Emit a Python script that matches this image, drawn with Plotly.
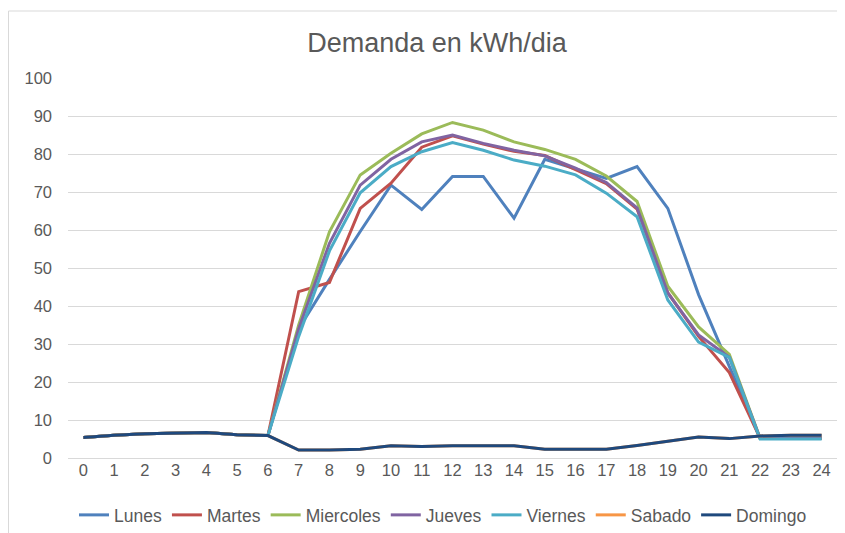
import plotly.graph_objects as go

hours = list(range(25))
tick_labels = [str(h) for h in hours]

night = [5.4, 6.0, 6.4, 6.5, 6.7, 6.1, 5.9]

lunes = night + [34, 47, 59.6, 71.8, 65.4, 74.1, 74.1, 63.1, 78.6, 76.2, 73.6, 76.7, 65.7, 43, 24, 5.2, 5.2, 5.2]
martes = night + [43.8, 46.2, 65.7, 72.3, 81.8, 84.8, 82.6, 80.7, 79.6, 76.0, 72.2, 65.5, 43.5, 32.0, 22.5, 5.2, 5.2, 5.2]
miercoles = night + [35, 59.5, 74.5, 80.2, 85.3, 88.3, 86.3, 83.2, 81.2, 78.6, 74.2, 67.5, 45.2, 34.5, 27.3, 5.2, 5.2, 5.2]
jueves = night + [34, 56.5, 71.8, 78.6, 83.2, 85.0, 82.8, 81.0, 79.5, 76.3, 72.5, 65.8, 43.4, 32.4, 26.5, 5.2, 5.2, 5.2]
viernes = night + [32, 54.5, 69.8, 76.7, 80.6, 83.0, 81.0, 78.4, 76.8, 74.5, 69.7, 63.5, 41.6, 30.5, 26.5, 5.0, 5.0, 5.0]
domingo = night + [2.1, 2.1, 2.3, 3.2, 3.0, 3.2, 3.2, 3.2, 2.3, 2.3, 2.3, 3.3, 4.4, 5.5, 5.1, 5.8, 6.0, 6.0]
sabado = list(domingo)

series_names = ["Lunes", "Martes", "Miercoles", "Jueves", "Viernes", "Sabado", "Domingo"]
series_values = [lunes, martes, miercoles, jueves, viernes, sabado, domingo]
colors = ["#4F81BD", "#C0504D", "#9BBB59", "#8064A2", "#4BACC6", "#F79646", "#1F497D"]

fig = go.Figure()
for name, vals, col in zip(series_names, series_values, colors):
    fig.add_trace(go.Scatter(x=hours, y=vals, mode="lines", name=name,
                             line=dict(color=col, width=3)))

# page body has an 8px margin, so the figure is 837x525 placed at (8,8)
W, H = 837, 525
font_family = "Liberation Sans, Arial, sans-serif"
fig.update_layout(
    width=W, height=H,
    paper_bgcolor="white", plot_bgcolor="white",
    margin=dict(l=60, r=8, t=70, b=75, autoexpand=False),
    title=dict(text="Demanda en kWh/dia", x=429/W, xanchor="center", xref="container",
               y=1 - 35/H, yanchor="middle", yref="container",
               font=dict(family=font_family, size=27, color="#595959")),
    font=dict(family=font_family, size=16.5, color="#595959"),
    xaxis=dict(range=[-0.5, 24.5], tickmode="array", tickvals=hours, ticktext=tick_labels,
               showgrid=False, zeroline=False, showline=False, ticks="",
               tickfont=dict(size=16.5, color="#595959"), fixedrange=True),
    yaxis=dict(range=[0, 100], tickmode="linear", tick0=0, dtick=10,
               showgrid=True, gridcolor="#D9D9D9", gridwidth=1,
               zeroline=True, zerolinecolor="#D9D9D9", zerolinewidth=1,
               showline=False, ticks="", ticklabelstandoff=15,
               tickfont=dict(size=16.5, color="#595959"), fixedrange=True),
    legend=dict(orientation="h", x=435/W, xanchor="center", xref="container",
                y=(H - 507)/H, yanchor="middle", yref="container",
                font=dict(size=17.5, color="#595959"), itemwidth=30,
                tracegroupgap=0, bgcolor="rgba(0,0,0,0)"),
    showlegend=True,
)

fig.add_shape(type="rect", xref="paper", yref="paper",
              x0=(0.5-60)/769, x1=(845-60)/769, y0=(450-540)/380, y1=(450-3)/380,
              line=dict(color="#D9D9D9", width=1), fillcolor="rgba(0,0,0,0)", layer="below")

fig.write_html("out.html")
